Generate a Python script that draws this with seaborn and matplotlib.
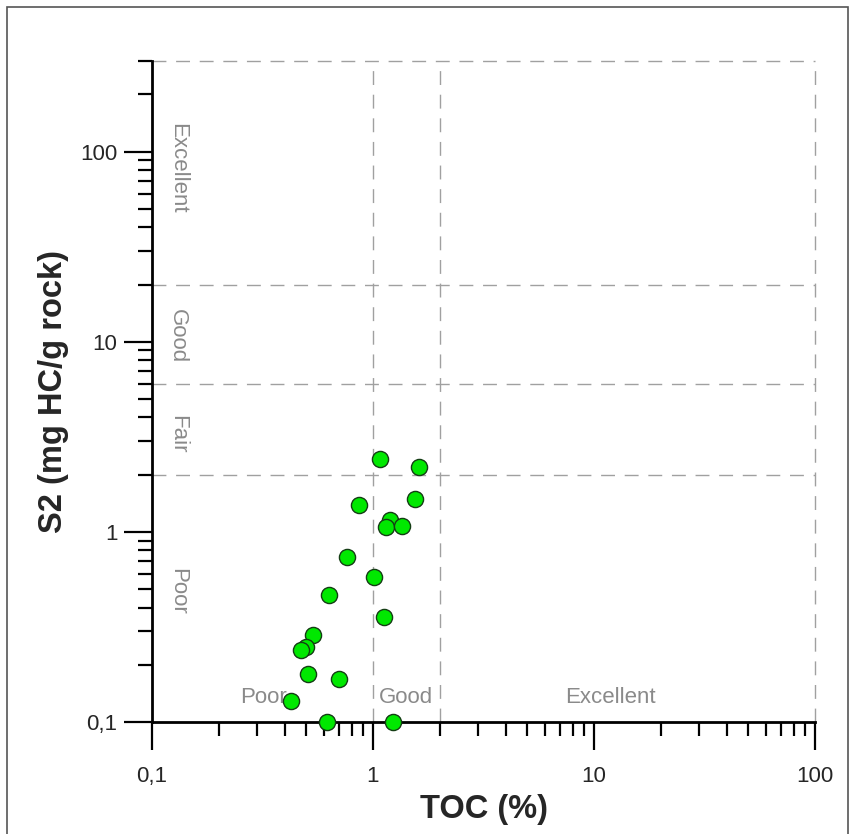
import matplotlib
matplotlib.use("Agg")
import matplotlib.pyplot as plt
import matplotlib.ticker as mticker
from matplotlib.patches import Rectangle
import seaborn as sns
import pandas as pd

toc = [1.08, 1.61, 1.55, 0.867, 1.19, 1.15, 1.35, 0.765, 1.01, 0.634,
       1.12, 0.537, 0.497, 0.471, 0.51, 0.704, 0.426, 0.621, 1.235]
s2 = [2.41, 2.19, 1.49, 1.38, 1.15, 1.06, 1.08, 0.738, 0.577, 0.467,
      0.358, 0.287, 0.247, 0.240, 0.178, 0.169, 0.129, 0.1, 0.1]

toc_bounds = [1, 2, 100]
s2_bounds = [2, 6, 20, 300]
toc_classes = ["Poor", "Good", "Excellent"]
toc_class_pos = [0.318, 1.41, 11.9]
s2_classes = ["Excellent", "Good", "Fair", "Poor"]
s2_class_pos = [82, 10.7, 3.25, 0.489]

df = pd.DataFrame({"TOC": toc, "S2": s2})

sns.set_style("white")
plt.rcParams["font.family"] = ["Liberation Sans", "DejaVu Sans"]

fig = plt.figure(figsize=(8.5, 8.34), dpi=100)
ax = fig.add_axes([152/850, 1 - 722/834, (815-152)/850, (722-61)/834])

ax.set_xscale("log")
ax.set_yscale("log")
ax.set_xlim(0.1, 100)
ax.set_ylim(0.1, 300)

grid_kw = dict(color="#a0a0a0", lw=1.0, ls=(0, (10, 7)), zorder=1, clip_on=False)
for xb in toc_bounds:
    ax.axvline(xb, **grid_kw)
for yb in s2_bounds:
    ax.axhline(yb, **grid_kw)

sns.scatterplot(data=df, x="TOC", y="S2", ax=ax, s=135, color="#00e800",
                edgecolor="#143d14", linewidth=1.0, zorder=5, clip_on=False,
                legend=False)

lab_color = "#8a8a8a"
for name, xp in zip(toc_classes, toc_class_pos):
    ax.text(xp, 0.135, name, ha="center", va="center", fontsize=16,
            color=lab_color, zorder=3)
for name, yp in zip(s2_classes, s2_class_pos):
    ax.text(0.13, yp, name, ha="center", va="center", rotation=-90,
            fontsize=16, color=lab_color, zorder=3)

for side in ["top", "right"]:
    ax.spines[side].set_visible(False)
for side in ["left", "bottom"]:
    ax.spines[side].set_linewidth(2)
    ax.spines[side].set_color("black")

major = [0.1, 1, 10, 100]
ax.xaxis.set_major_locator(mticker.FixedLocator(major))
ax.yaxis.set_major_locator(mticker.FixedLocator(major))
ax.xaxis.set_minor_locator(mticker.LogLocator(base=10, subs=range(2, 10), numticks=20))
ax.yaxis.set_minor_locator(mticker.LogLocator(base=10, subs=range(2, 10), numticks=20))
fmt = mticker.FuncFormatter(lambda v, p: ("%g" % v).replace(".", ","))
ax.xaxis.set_major_formatter(fmt)
ax.yaxis.set_major_formatter(fmt)
ax.xaxis.set_minor_formatter(mticker.NullFormatter())
ax.yaxis.set_minor_formatter(mticker.NullFormatter())
ax.tick_params(which="major", direction="out", length=20, width=1.6,
               labelsize=16, color="black", bottom=True, left=True)
ax.tick_params(axis="x", which="major", pad=12)
ax.tick_params(axis="y", which="major", pad=5)
ax.tick_params(which="minor", direction="out", length=10, width=1.6,
               color="black", bottom=True, left=True)

ax.set_xlabel("TOC (%)", fontsize=23.5, fontweight="bold", labelpad=5)
ax.set_ylabel("S2 (mg HC/g rock)", fontsize=23.5, fontweight="bold", labelpad=8)

fig.patches.append(Rectangle((7/850, -0.05), (848-7)/850, (834-7)/834 + 0.05,
                             transform=fig.transFigure, fill=False,
                             edgecolor="#555555", linewidth=1.2))

fig.savefig("out.png", dpi=100)
